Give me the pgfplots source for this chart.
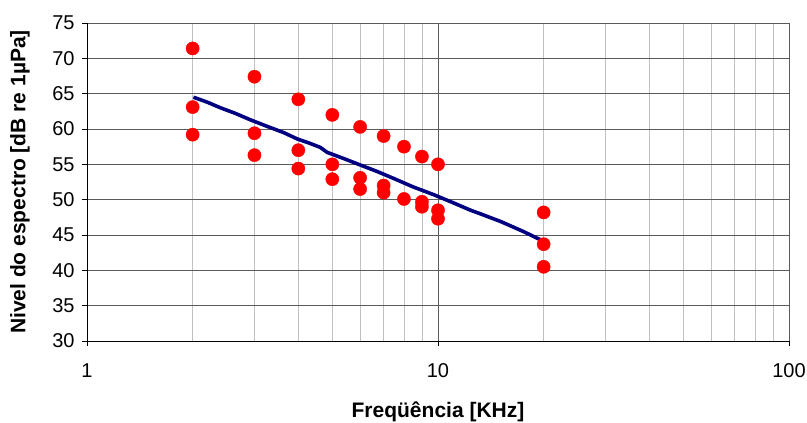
\documentclass[border=0pt]{standalone}
\usepackage{fontspec}
\setmainfont{Liberation Sans}
\usepackage{pgfplots}
\pgfplotsset{compat=1.18}
\definecolor{navyline}{RGB}{0,0,128}
\definecolor{majgrid}{RGB}{90,90,90}
\definecolor{mingrid}{RGB}{192,192,192}
\begin{document}
\begin{tikzpicture}
\begin{axis}[
  scale only axis,
  width=702bp, height=318bp,
  xmode=log, log basis x=10,
  xmin=1, xmax=100, ymin=30, ymax=75,
  ytick={30,35,...,75},
  xtick={1,10,100},
  xticklabels={1,10,100},
  minor xtick={2,3,4,5,6,7,8,9,20,30,40,50,60,70,80,90},
  /pgf/number format/assume math mode=true,
  axis lines*=left,
  axis line style={black, line width=0.8bp, -},
  major tick length=5bp,
  minor tick length=0bp,
  tick style={black, line width=0.8bp},
  tick align=outside,
  xmajorgrids, ymajorgrids, xminorgrids,
  major grid style={majgrid, line width=0.8bp},
  minor grid style={mingrid, line width=0.7bp},
  ticklabel style={font=\fontsize{20bp}{24bp}\selectfont},
  xticklabel style={yshift=-14bp},
  yticklabel style={xshift=-4bp},
  xlabel={\textbf{Freqüência [KHz]}},
  ylabel={\textbf{Nivel do espectro [dB re 1µPa]}},
  label style={font=\fontsize{21bp}{24bp}\selectfont},
  xlabel style={at={(axis description cs:0.5,0)}, anchor=center, yshift=-71bp},
  ylabel style={at={(axis description cs:0,0.5)}, anchor=center, yshift=67bp},
  clip=false,
]
\addplot[navyline, line width=3.6bp, no marks] coordinates {
(2.01,64.5) (2.2,63.8) (2.40,63.0) (2.65,62.2) (2.92,61.3) (3.25,60.4)
(3.63,59.5) (3.97,58.6) (4.3,58.0) (4.62,57.4) (4.83,56.7) (5.4,55.8)
(6.01,54.9) (6.7,54.0) (7.48,53.0) (8.5,51.8) (9.73,50.7) (11.0,49.6)
(12.39,48.5) (13.2,48.0) (15.1,46.9) (17.5,45.5) (20.0,44.1)
};
\addplot[only marks, mark=*, mark size=6.6bp, color=red, mark options={draw=red, fill=red}] coordinates {
(2,71.4) (2,63.1) (2,59.2)
(3,67.4) (3,59.4) (3,56.3)
(4,64.2) (4,57.0) (4,54.4)
(5,62.0) (5,55.0) (5,52.9)
(6,60.3) (6,53.1) (6,51.5)
(7,59.0) (7,52.0) (7,51.0)
(8,57.5) (8,50.1)
(9,56.1) (9,49.7) (9,49.0)
(10,55.0) (10,48.5) (10,47.3)
(20,48.2) (20,43.7) (20,40.5)
};
\coordinate (O) at (rel axis cs:0,0);
\end{axis}
\pgfresetboundingbox
\path (O) ++(-87bp,-82bp) rectangle ++(807bp,423bp);
\end{tikzpicture}
\end{document}
